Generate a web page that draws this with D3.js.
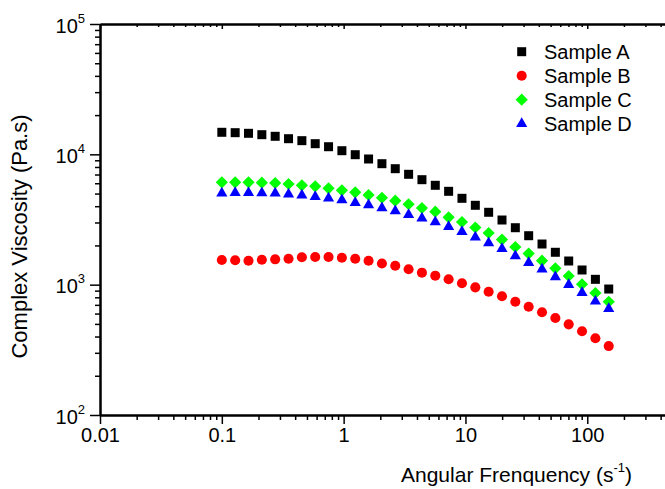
<!DOCTYPE html>
<html>
<head>
<meta charset="utf-8">
<script src="https://cdn.jsdelivr.net/npm/d3@7"></script>
<style>
  html, body { margin: 0; padding: 0; background: #fff; }
  svg { display: block; }
  text { font-family: "Liberation Sans", Arial, Helvetica, sans-serif; fill: #000; }
</style>
</head>
<body>
<svg id="chart" width="665" height="489"></svg>
<script>
const freq = [0.1, 0.1287, 0.1656, 0.2131, 0.2742, 0.3529, 0.4541, 0.5843, 0.7518, 0.9676,
  1.245, 1.602, 2.062, 2.653, 3.414, 4.393, 5.653, 7.275, 9.362, 12.05,
  15.5, 19.95, 25.67, 33.03, 42.51, 54.7, 70.39, 90.58, 116.6, 150];
const sampleA = [14760, 14660, 14500, 14150, 13750, 13180, 12730, 12070, 11440, 10660,
  9936, 9209, 8476, 7759, 7028, 6389, 5786, 5203, 4598, 4064,
  3592, 3134, 2735, 2375, 2051, 1772, 1519, 1296, 1099, 926];
const sampleB = [1546, 1538, 1527, 1554, 1565, 1582, 1622, 1630, 1630, 1610,
  1582, 1527, 1454, 1398, 1312, 1236, 1172, 1101, 1026, 954,
  883, 815, 740, 677, 614, 555, 496, 439, 388, 338];
const sampleC = [6100, 6100, 6100, 6058, 6026, 5921, 5786, 5685, 5487, 5297,
  5113, 4874, 4647, 4408, 4137, 3875, 3630, 3287, 3026, 2745,
  2491, 2217, 1945, 1731, 1527, 1335, 1165, 1008, 863, 740];
const sampleD = [5023, 5077, 5077, 5050, 5023, 4935, 4848, 4730, 4598, 4462,
  4255, 4085, 3875, 3675, 3443, 3230, 3026, 2784, 2549, 2309,
  2087, 1884, 1659, 1474, 1314, 1145, 999, 868, 745, 653];
const seriesNames = ["Sample A", "Sample B", "Sample C", "Sample D"];
const xTickLabels = ["0.01", "0.1", "1", "10", "100"];
const xMajor = [0.01, 0.1, 1, 10, 100, 1000];
const yMajor = [100, 1000, 10000, 100000];
const yExponents = ["2", "3", "4", "5"];

const svg = d3.select("#chart");
const x = d3.scaleLog().domain([0.01, 1000]).range([100, 709.1]);
const y = d3.scaleLog().domain([100, 100000]).range([415, 24]);

function minorTicks(lo, hi) {
  const out = [];
  for (let p = lo; p < hi; p *= 10) for (let m = 2; m <= 9; m++) out.push(p * m);
  return out;
}
const xMinor = minorTicks(0.01, 1000);
const yMinor = minorTicks(100, 100000);

function styleAxis(g, lineW) {
  g.select(".domain").attr("stroke", "#000").attr("stroke-width", lineW);
  g.selectAll(".tick line").attr("stroke", "#000").attr("stroke-width", 1.5);
}

// bottom axis
const gxMinor = svg.append("g").attr("transform", "translate(0,415)")
  .call(d3.axisBottom(x).tickValues(xMinor).tickSize(5).tickFormat(() => "").tickSizeOuter(0));
styleAxis(gxMinor, 2);
const gx = svg.append("g").attr("transform", "translate(0,415)")
  .call(d3.axisBottom(x).tickValues(xMajor).tickSize(9).tickSizeOuter(0)
    .tickFormat((d, i) => xTickLabels[i] || ""));
styleAxis(gx, 2);
gx.selectAll(".tick text").attr("font-size", 20).attr("y", 13).attr("dy", "0.71em")
  .style("font-family", '"Liberation Sans", Arial, sans-serif');

// top axis (inward ticks)
const gtMinor = svg.append("g").attr("transform", "translate(0,24)")
  .call(d3.axisBottom(x).tickValues(xMinor).tickSize(3).tickFormat(() => "").tickSizeOuter(0));
styleAxis(gtMinor, 2);
const gt = svg.append("g").attr("transform", "translate(0,24)")
  .call(d3.axisBottom(x).tickValues(xMajor).tickSize(5).tickFormat(() => "").tickSizeOuter(0));
styleAxis(gt, 2);

// left axis
const gyMinor = svg.append("g").attr("transform", "translate(100,0)")
  .call(d3.axisLeft(y).tickValues(yMinor).tickSize(5).tickFormat(() => "").tickSizeOuter(0));
styleAxis(gyMinor, 2);
const gy = svg.append("g").attr("transform", "translate(100,0)")
  .call(d3.axisLeft(y).tickValues(yMajor).tickSize(10).tickFormat(() => "").tickSizeOuter(0));
styleAxis(gy, 2);
gy.selectAll(".tick").each(function(d, i) {
  const t = d3.select(this).append("text")
    .attr("x", -15).attr("y", 8).attr("text-anchor", "end")
    .attr("font-size", 20).attr("fill", "#000");
  t.append("tspan").text("10");
  t.append("tspan").attr("font-size", 13).attr("dy", -10).text(yExponents[i]);
});

// symbols
const symSquare = d3.symbol().type(d3.symbolSquare).size(81);
const symCircle = d3.symbol().type(d3.symbolCircle).size(80);
const symDiamond = d3.symbol().type(d3.symbolSquare).size(74);
const symTriangle = d3.symbol().type(d3.symbolTriangle).size(54);

const series = [
  { name: seriesNames[0], values: sampleA, color: "#000000", path: symSquare(), rot: 0 },
  { name: seriesNames[1], values: sampleB, color: "#ff0000", path: symCircle(), rot: 0 },
  { name: seriesNames[2], values: sampleC, color: "#00ff00", path: symDiamond(), rot: 45 },
  { name: seriesNames[3], values: sampleD, color: "#0000ff", path: symTriangle(), rot: 0 }
];

series.forEach(s => {
  svg.append("g").selectAll("path")
    .data(freq.map((f, i) => [f, s.values[i]]))
    .join("path")
    .attr("d", s.path)
    .attr("fill", s.color)
    .attr("transform", d => `translate(${x(d[0])},${y(d[1])}) rotate(${s.rot})`);
});

// legend
const legend = svg.append("g");
series.forEach((s, i) => {
  const cy = 51.7 + i * 24;
  legend.append("path").attr("d", s.path).attr("fill", s.color)
    .attr("transform", `translate(521.7,${cy}) rotate(${s.rot})`);
  legend.append("text").attr("x", 544).attr("y", cy + 7.2)
    .attr("font-size", 20).text(s.name);
});

// axis titles
const xt = svg.append("text").attr("x", 401).attr("y", 482).attr("font-size", 21);
xt.append("tspan").text("Angular Frenquency (s");
xt.append("tspan").attr("font-size", 13).attr("dy", -10).text("-1");
xt.append("tspan").attr("dy", 10).text(")");

svg.append("text")
  .attr("transform", "translate(27,236.5) rotate(-90)")
  .attr("text-anchor", "middle")
  .attr("font-size", 22)
  .text("Complex Viscosity (Pa.s)");
</script>
</body>
</html>
